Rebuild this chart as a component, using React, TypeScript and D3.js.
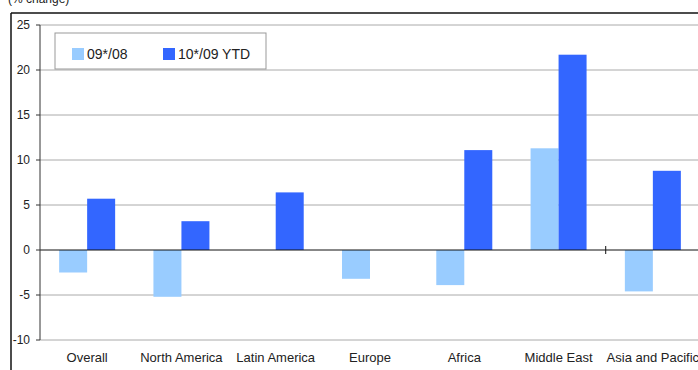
import React from "react";
import * as d3 from "d3";

const categories = ["Overall", "North America", "Latin America", "Europe", "Africa", "Middle East", "Asia and Pacific"];
const series1Name = "09*/08";
const series2Name = "10*/09 YTD";
const series1 = [-2.5, -5.2, 0, -3.2, -3.9, 11.3, -4.6];
const series2 = [5.7, 3.2, 6.4, 0, 11.1, 21.7, 8.8];
const yTicks = [25, 20, 15, 10, 5, 0, -5, -10];

const W = 698;
const H = 370;
const left = 40;
const right = 700;
const top = 25;
const bottom = 340;
const c1 = "#99ccff";
const c2 = "#3366ff";
const font = "'Liberation Sans', Arial, sans-serif";

export default function App() {
  const y = d3.scaleLinear().domain([-10, 25]).range([bottom, top]);
  const x = d3.scaleBand().domain(categories).range([left, right]);
  const bw = 28;
  return (
    <svg width={W} height={H} style={{ position: "absolute", left: 0, top: 0, background: "#fff" }} fontFamily={font}>
      <text x={8} y={3} fontSize={12} fill="#222">(% change)</text>
      <line x1={11} y1={13} x2={W} y2={13} stroke="#111" strokeWidth={1.5} />
      <line x1={11} y1={13} x2={11} y2={H} stroke="#111" strokeWidth={1.5} />
      {yTicks.map((t) => (
        <g key={t}>
          {t !== 0 && <line x1={left} x2={W} y1={y(t)} y2={y(t)} stroke="#aaa" strokeWidth={1} />}
          <line x1={36} x2={left} y1={y(t)} y2={y(t)} stroke="#333" />
          <text x={30} y={y(t)} dy="0.35em" textAnchor="end" fontSize={12} fill="#222">{t}</text>
        </g>
      ))}
      {categories.map((c, i) => {
        const cx = x(c)! + x.bandwidth() / 2;
        const v1 = series1[i];
        const v2 = series2[i];
        return (
          <g key={c}>
            {v1 !== 0 && (
              <rect x={cx - bw} width={bw} y={y(Math.max(0, v1))} height={Math.abs(y(v1) - y(0))} fill={c1} />
            )}
            {v2 !== 0 && (
              <rect x={cx} width={bw} y={y(Math.max(0, v2))} height={Math.abs(y(v2) - y(0))} fill={c2} />
            )}
            <text x={cx} y={362} textAnchor="middle" fontSize={13} fill="#222">{c}</text>
          </g>
        );
      })}
      <line x1={left} x2={W} y1={y(0)} y2={y(0)} stroke="#111" strokeWidth={1} />
      <line x1={x("Asia and Pacific")!} x2={x("Asia and Pacific")!} y1={y(0) - 4} y2={y(0) + 4} stroke="#111" />
      <line x1={left} x2={left} y1={top} y2={bottom} stroke="#333" />
      <rect x={55} y={33} width={211} height={36} fill="#fff" stroke="#999" />
      <rect x={72} y={48} width={12} height={12} fill={c1} />
      <text x={87} y={59} fontSize={14} fill="#222">{series1Name}</text>
      <rect x={163} y={48} width={12} height={12} fill={c2} />
      <text x={178} y={59} fontSize={14} fill="#222">{series2Name}</text>
    </svg>
  );
}
